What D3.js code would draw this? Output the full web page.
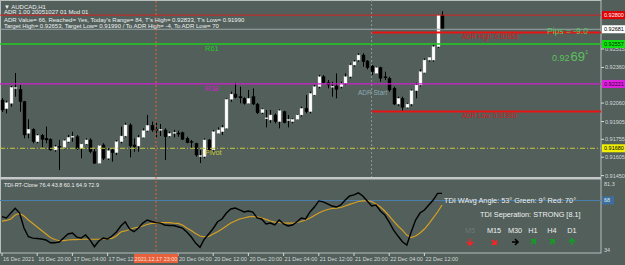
<!DOCTYPE html>
<html>
<head>
<meta charset="utf-8">
<script src="https://cdn.jsdelivr.net/npm/d3@7"></script>
<style>
body { margin: 0; background: #525f5b; }
svg { display: block; font-family: "Liberation Sans", Arial, sans-serif; }
</style>
</head>
<body>
<svg id="chart" width="625" height="265"></svg>
<script>
// AUDCAD H1 candles, index 0 = 16 Dec 12:00
const opens = [0.92086,0.92013,0.92058,0.92183,0.92176,0.92072,0.91806,0.91840,0.91735,0.91789,
    0.91764,0.91755,0.91666,0.91697,0.91688,0.91735,0.91773,0.91777,0.91680,0.91716,
    0.91750,0.91651,0.91554,0.91708,0.91596,0.91666,0.91643,0.91735,0.91783,0.91876,
    0.91708,0.91699,0.91772,0.91828,0.91873,0.91840,0.91834,0.91834,0.91783,0.91807,
    0.91808,0.91811,0.91764,0.91737,0.91722,0.91611,0.91609,0.91750,0.91666,0.91806,
    0.91819,0.91848,0.92092,0.92136,0.92113,0.92100,0.92058,0.92114,0.92052,0.91979,
    0.91928,0.91918,0.91960,0.91904,0.91988,0.91914,0.91904,0.91924,0.91960,0.92016,
    0.91988,0.92128,0.92198,0.92282,0.92231,0.92194,0.92204,0.92198,0.92226,0.92282,
    0.92380,0.92422,0.92464,0.92414,0.92372,0.92310,0.92358,0.92281,0.92268,0.92184,
    0.92052,0.92100,0.92025,0.92052,0.92164,0.92212,0.92316,0.92422,0.92422,0.92534,0.92801];
const highs = [0.92103,0.92080,0.92204,0.92313,0.92212,0.92078,0.91924,0.91848,0.91800,0.91800,
    0.91862,0.91764,0.91708,0.91750,0.91755,0.91792,0.91819,0.91792,0.91722,0.91764,
    0.91764,0.91680,0.91708,0.91722,0.91680,0.91680,0.91750,0.91862,0.91895,0.91890,
    0.91764,0.91792,0.91848,0.91960,0.91904,0.91904,0.91884,0.91848,0.91819,0.91834,
    0.91828,0.91819,0.91777,0.91750,0.91727,0.91666,0.91764,0.91758,0.91834,0.91856,
    0.91876,0.92100,0.92156,0.92231,0.92198,0.92109,0.92170,0.92184,0.92061,0.92016,
    0.92002,0.92002,0.91974,0.92008,0.91996,0.91960,0.91932,0.91968,0.92030,0.92128,
    0.92156,0.92212,0.92296,0.92296,0.92254,0.92240,0.92310,0.92240,0.92310,0.92395,
    0.92422,0.92479,0.92479,0.92422,0.92380,0.92366,0.92366,0.92324,0.92282,0.92198,
    0.92114,0.92114,0.92063,0.92176,0.92231,0.92344,0.92437,0.92450,0.92549,0.92809,0.92833];
const lows = [0.91985,0.91974,0.92030,0.92114,0.91988,0.91764,0.91764,0.91722,0.91722,0.91688,
    0.91722,0.91660,0.91651,0.91497,0.91671,0.91727,0.91735,0.91666,0.91596,0.91708,
    0.91638,0.91548,0.91548,0.91581,0.91581,0.91567,0.91623,0.91722,0.91772,0.91604,
    0.91651,0.91651,0.91764,0.91819,0.91819,0.91764,0.91783,0.91581,0.91772,0.91772,
    0.91777,0.91750,0.91722,0.91680,0.91609,0.91556,0.91596,0.91649,0.91651,0.91800,
    0.91792,0.91840,0.92072,0.92100,0.92058,0.92048,0.92052,0.92044,0.91968,0.91968,
    0.91856,0.91895,0.91890,0.91848,0.91890,0.91856,0.91890,0.91918,0.91946,0.91974,
    0.91974,0.92120,0.92184,0.92226,0.92184,0.92114,0.92100,0.92184,0.92212,0.92268,
    0.92366,0.92408,0.92366,0.92344,0.92296,0.92305,0.92240,0.92254,0.92156,0.92044,
    0.92035,0.91990,0.92016,0.92035,0.92100,0.92198,0.92310,0.92408,0.92408,0.92523,0.92681];
const closes = [0.92002,0.92063,0.92193,0.92191,0.92072,0.91792,0.91840,0.91735,0.91789,0.91755,
    0.91750,0.91666,0.91693,0.91689,0.91744,0.91772,0.91782,0.91680,0.91716,0.91750,
    0.91651,0.91554,0.91702,0.91596,0.91660,0.91643,0.91735,0.91783,0.91876,0.91699,
    0.91693,0.91772,0.91828,0.91873,0.91834,0.91828,0.91840,0.91777,0.91806,0.91814,
    0.91800,0.91755,0.91727,0.91730,0.91623,0.91619,0.91750,0.91666,0.91819,0.91834,
    0.91856,0.92092,0.92136,0.92109,0.92104,0.92058,0.92100,0.92052,0.91979,0.92008,
    0.91936,0.91960,0.91904,0.91996,0.91895,0.91922,0.91924,0.91960,0.92016,0.91988,
    0.92142,0.92198,0.92282,0.92231,0.92212,0.92202,0.92176,0.92226,0.92282,0.92380,
    0.92408,0.92464,0.92408,0.92358,0.92324,0.92358,0.92268,0.92273,0.92170,0.92052,
    0.92100,0.92025,0.92052,0.92164,0.92212,0.92324,0.92422,0.92445,0.92534,0.92801,0.92681];

// TDI sub window
const tdiPrice = [56.9,56.0,59.4,62.6,59.4,49.1,43.1,42.2,41.9,41.6,
    40.9,39.0,39.0,39.5,42.2,45.0,45.7,42.9,42.2,44.3,
    40.9,36.3,40.2,42.2,41.6,43.6,46.4,50.5,53.4,48.4,
    46.6,49.1,52.5,54.6,53.6,52.8,52.5,51.2,50.8,50.8,
    50.0,49.1,46.4,43.1,38.8,35.9,41.6,45.0,48.8,53.4,
    55.3,59.4,62.2,62.8,61.5,60.1,60.8,60.1,56.0,55.3,
    51.9,52.5,51.2,54.6,51.9,50.5,51.2,53.2,56.0,55.3,
    60.1,63.5,67.7,67.0,65.6,64.2,63.5,64.9,68.3,71.1,
    71.8,73.2,71.1,67.7,64.2,64.9,60.8,58.0,53.2,47.7,
    43.6,39.7,37.4,46.4,54.6,59.4,61.5,64.9,68.3,72.9,72.9];
const tdiSignal = [53.9,54.3,55.3,58.0,59.1,57.4,54.6,52.2,49.8,47.4,
    45.0,42.6,41.2,40.4,40.5,40.9,41.1,41.2,41.4,41.4,
    41.4,41.4,41.4,41.6,41.9,42.0,43.6,46.4,47.1,48.1,
    49.1,49.8,50.5,51.5,52.3,52.5,52.8,52.8,52.8,52.5,
    52.3,51.2,49.1,47.4,45.3,43.6,43.1,43.3,45.0,46.6,
    48.4,50.5,52.5,53.9,55.3,56.0,56.7,57.0,56.7,56.0,
    55.0,53.9,53.2,52.9,52.5,52.5,52.5,52.9,53.6,54.6,
    56.0,57.7,59.4,60.8,61.8,62.5,62.8,63.2,64.2,65.3,
    66.3,67.3,67.7,67.7,67.3,65.6,63.5,60.8,57.4,53.9,
    50.5,47.7,44.3,42.6,43.6,45.7,48.4,51.9,56.0,60.1,64.9];

// levels
const levelNames = ['R61', 'R38', 'Pivot'];
const levelValues = [0.92557, 0.92221, 0.91680];
const levelColors = ['#22cc22', '#d01ed0', '#c8c83a'];
const adrHigh = 0.92653, adrLow = 0.91990, bidPrice = 0.92681, prevHigh = 0.92800;
const adrStartIdx = 84, markerIdx = 35;

// axis labels
const priceTicks = [0.92515, 0.92360, 0.92060, 0.91905, 0.91755, 0.91605, 0.91450];
const timeTickIdx = [0, 8, 16, 24, 40, 48, 56, 64, 72, 80, 88, 96];
const timeTickLabels = ['16 Dec 2021', '16 Dec 20:00', '17 Dec 04:00', '17 Dec 12:00', '20 Dec 04:00', '20 Dec 12:00',
    '20 Dec 20:00', '21 Dec 04:00', '21 Dec 12:00', '21 Dec 20:00', '22 Dec 04:00', '22 Dec 12:00'];
const tfNames = ['M5', 'M15', 'M30', 'H1', 'H4', 'D1'];
const tfAngles = [90, 45, 0, -45, -45, -90];
const tfColors = ['#ff2020', '#ff2020', '#000000', '#10a020', '#10a020', '#10a020'];

const svg = d3.select('#chart');
const axisColor = '#d4d8d8';

svg.append('rect').attr('width', 625).attr('height', 265).attr('fill', '#525f5b');

const x = d3.scaleLinear().domain([0, 100]).range([2, 442]);
const y = d3.scaleLinear().domain([0.91430, 0.92927]).range([178, 0]);
const yt = d3.scaleLinear().domain([33, 81.3]).range([251.5, 181.1]);

const defs = svg.append('defs');
defs.append('clipPath').attr('id', 'mainClip')
    .append('rect').attr('x', 0).attr('y', 0).attr('width', 601).attr('height', 177);
// time labels are hidden under the highlighted date box
defs.append('clipPath').attr('id', 'timeClip')
    .append('rect').attr('x', 0).attr('y', 250).attr('width', x(markerIdx) - 22).attr('height', 15);

//--------------------------------------------------FRAME
svg.append('rect').attr('x', 0.5).attr('y', 0.5).attr('width', 600.5).attr('height', 252.5)
    .attr('fill', 'none').attr('stroke', '#b8bebe');
svg.append('rect').attr('x', 0).attr('y', 177).attr('width', 601).attr('height', 2.5).attr('fill', '#c4c8c8');

//--------------------------------------------------MAIN
const main = svg.append('g').attr('clip-path', 'url(#mainClip)');

main.append('line')
    .attr('x1', x(adrStartIdx)).attr('x2', x(adrStartIdx)).attr('y1', 0).attr('y2', 177)
    .attr('stroke', '#8c9898').attr('stroke-dasharray', '2,2');

const candle = main.append('g').attr('class', 'candles').selectAll('g')
    .data(d3.range(opens.length))
    .enter().append('g');

candle.append('line')
    .attr('x1', (i) => Math.round(x(i)) + 0.5).attr('x2', (i) => Math.round(x(i)) + 0.5)
    .attr('y1', (i) => y(highs[i])).attr('y2', (i) => y(lows[i]))
    .attr('stroke', '#000');

candle.append('rect')
    .attr('x', (i) => Math.round(x(i)) - 1)
    .attr('width', 3)
    .attr('y', (i) => y(Math.max(opens[i], closes[i])))
    .attr('height', (i) => Math.max(1, Math.abs(y(opens[i]) - y(closes[i]))))
    .attr('fill', (i) => closes[i] >= opens[i] ? '#ffffff' : '#000000')
    .attr('stroke', (i) => closes[i] >= opens[i] ? '#c8c8c8' : '#000')
    .attr('stroke-width', 0.4);

// horizontal levels
main.append('line').attr('x1', 0).attr('x2', 601).attr('y1', y(prevHigh)).attr('y2', y(prevHigh))
    .attr('stroke', '#d82020').attr('stroke-width', 1);
main.append('line').attr('x1', 0).attr('x2', 601).attr('y1', y(bidPrice)).attr('y2', y(bidPrice))
    .attr('stroke', '#9aa6aa').attr('stroke-width', 1);

levelValues.forEach((v, k) => {
    main.append('line')
        .attr('x1', 0).attr('x2', 601).attr('y1', y(v)).attr('y2', y(v))
        .attr('stroke', levelColors[k])
        .attr('stroke-width', k === 2 ? 1 : 1.3)
        .attr('stroke-dasharray', k === 2 ? '5,2,1,2' : null);
    main.append('text')
        .text(levelNames[k])
        .attr('x', 205).attr('y', y(v) + 7)
        .style('font-size', '7.5px')
        .style('fill', levelColors[k]);
});

[adrHigh, adrLow].forEach((v, k) => {
    main.append('line')
        .attr('x1', x(adrStartIdx)).attr('x2', 601).attr('y1', y(v)).attr('y2', y(v))
        .attr('stroke', '#e81414').attr('stroke-width', 2);
    main.append('text')
        .text((k === 0 ? 'ADR High: ' : 'ADR Low: ') + v.toFixed(5))
        .attr('x', 462).attr('y', y(v) + 6.5)
        .style('font-size', '6.5px')
        .style('fill', '#d81818');
});

main.append('text').text('ADR Start')
    .attr('x', 358).attr('y', 95)
    .style('font-size', '6.5px').style('fill', '#8eaab2');

main.append('text').text('Pips = -9.0')
    .attr('x', 547).attr('y', 34)
    .style('font-size', '8.5px').style('fill', '#5cc25c');

const bigPrice = main.append('text').attr('x', 552).attr('y', 61).style('fill', '#5cc25c');
bigPrice.append('tspan').text('0.92').style('font-size', '9px');
bigPrice.append('tspan').text('69').style('font-size', '13px').attr('dx', 1);
bigPrice.append('tspan').text('1').style('font-size', '6px').attr('dy', -7);

// header texts
const header = [
    ['▼ AUDCAD,H1', 8.5],
    ['ADR 1.00 20051027 01 Mod 01', 14],
    ["ADR Value= 66, Reached= Yes, Today's Range= 84, T's High= 0.92833, T's Low= 0.91990", 22],
    ['Target High= 0.92653, Target Low= 0.91990 / To ADR High= -4, To ADR Low= 70', 28]
];
header.forEach((h) => {
    main.append('text').text(h[0])
        .attr('x', 4).attr('y', h[1])
        .style('font-size', '6px')
        .style('fill', '#eef0f0');
});

//--------------------------------------------------MARKER
svg.append('line')
    .attr('x1', x(markerIdx)).attr('x2', x(markerIdx)).attr('y1', 1).attr('y2', 253)
    .attr('stroke', '#e0643e').attr('stroke-dasharray', '2,2');

//--------------------------------------------------PRICE AXIS
const axisG = svg.append('g');
priceTicks.forEach((p) => {
    axisG.append('line').attr('x1', 601).attr('x2', 604).attr('y1', y(p)).attr('y2', y(p)).attr('stroke', axisColor);
    axisG.append('text').text(p.toFixed(5))
        .attr('x', 605).attr('y', y(p) + 2)
        .style('font-size', '5.5px').style('fill', axisColor);
});

const priceTags = [
    [prevHigh, '#e00000', '#ffffff'],
    [bidPrice, '#ffffff', '#000000'],
    [levelValues[0], '#10e010', '#003000'],
    [levelValues[1], '#e020e0', '#300030'],
    [levelValues[2], '#f0f000', '#000000']
];
priceTags.forEach((t) => {
    axisG.append('rect')
        .attr('x', 602).attr('y', y(t[0]) - 4).attr('width', 23).attr('height', 8)
        .attr('fill', t[1]);
    axisG.append('text').text(t[0].toFixed(5))
        .attr('x', 604).attr('y', y(t[0]) + 2)
        .style('font-size', '5.5px').style('fill', t[2]);
});

//--------------------------------------------------TDI WINDOW
const sub = svg.append('g');

sub.append('line').attr('x1', 0).attr('x2', 601).attr('y1', yt(68)).attr('y2', yt(68))
    .attr('stroke', '#4a7fae').attr('stroke-width', 1);

const lineGen = d3.line().x((d, i) => x(i)).y((d) => yt(d));
sub.append('path').datum(tdiSignal).attr('d', lineGen)
    .attr('fill', 'none').attr('stroke', '#d8a020').attr('stroke-width', 1.2);
sub.append('path').datum(tdiPrice).attr('d', lineGen)
    .attr('fill', 'none').attr('stroke', '#000').attr('stroke-width', 1.4);

sub.append('text').text('TDI-RT-Clone 76.4 43.8 60.1 64.9 72.9')
    .attr('x', 4).attr('y', 187)
    .style('font-size', '5.5px').style('fill', '#eef0f0');

sub.append('text').text('TDI WAvg Angle: 53°  Green: 9°  Red: 70°')
    .attr('x', 444).attr('y', 203)
    .style('font-size', '7.3px').style('fill', '#f0f0f0');
sub.append('text').text('TDI Seperation: STRONG [8.1]')
    .attr('x', 480).attr('y', 217)
    .style('font-size', '7.3px').style('fill', '#f0f0f0');

const tfPos = [470, 494, 515, 533, 552, 572];
tfNames.forEach((n, k) => {
    sub.append('text').text(n)
        .attr('x', tfPos[k]).attr('y', 233)
        .style('font-size', '7.3px')
        .style('text-anchor', 'middle')
        .style('fill', k === 0 ? '#6e7676' : '#f0f0f0');
    sub.append('path')
        .attr('d', 'M-3,0 L2,0 M0,-3 L3,0 L0,3')
        .attr('transform', `translate(${tfPos[k]}, 242) rotate(${tfAngles[k]})`)
        .attr('fill', 'none')
        .attr('stroke', tfColors[k])
        .attr('stroke-width', 1.6);
});

// sub axis labels
sub.append('text').text('81.3').attr('x', 604).attr('y', 186)
    .style('font-size', '5.5px').style('fill', axisColor);
sub.append('rect').attr('x', 602).attr('y', yt(68) - 4).attr('width', 12).attr('height', 8).attr('fill', '#3c6e9e');
sub.append('text').text('68').attr('x', 604).attr('y', yt(68) + 2)
    .style('font-size', '5.5px').style('fill', '#e0e8f0');
sub.append('text').text('34').attr('x', 604).attr('y', 252)
    .style('font-size', '5.5px').style('fill', axisColor);

//--------------------------------------------------TIME AXIS
const timeG = svg.append('g');
timeTickIdx.forEach((idx, k) => {
    timeG.append('line').attr('x1', x(idx)).attr('x2', x(idx)).attr('y1', 253).attr('y2', 256)
        .attr('stroke', axisColor);
    const lbl = timeG.append('text').text(timeTickLabels[k])
        .attr('x', x(idx) + 1).attr('y', 261)
        .style('font-size', '5.5px').style('fill', axisColor);
    if (idx < markerIdx && idx > markerIdx - 12) lbl.attr('clip-path', 'url(#timeClip)');
});

timeG.append('rect')
    .attr('x', x(markerIdx) - 22).attr('y', 254).attr('width', 44).attr('height', 9)
    .attr('fill', '#e8603c');
timeG.append('text').text('2021.12.17 23:00')
    .attr('x', x(markerIdx)).attr('y', 261)
    .style('font-size', '5.5px').style('text-anchor', 'middle').style('fill', '#f4e0d8');
</script>
</body>
</html>
